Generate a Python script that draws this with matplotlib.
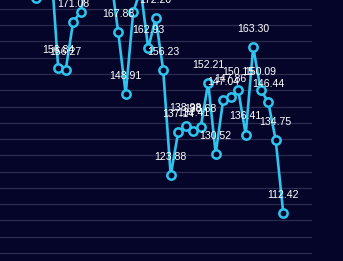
import matplotlib.pyplot as plt

# values; None where the label is cut off at the top
values = [178.4, 185.0, 190.0, 156.84, 156.27, 171.08, 174.0, 185.0, 190.0,
          186.0, 185.0, 167.88, 148.91, 174.0, 181.0, 162.93, 172.20, 156.23,
          123.88, 137.14, 138.98, 137.41, 138.68, 152.21, 130.52, 147.04,
          147.86, 150.15, 136.41, 163.30, 150.09, 146.44, 134.75, 112.42]
# labels that are visible in the crop
shown = [False, False, False, True, True, True, False, False, False,
         False, False, True, True, False, False, True, True, True,
         True, True, True, True, True, True, True, True,
         True, True, True, True, True, True, True, True]
idx = list(range(len(values)))

bg = "#05052a"
cyan = "#2ec4ee"

fig = plt.figure(figsize=(3.43, 2.61), dpi=100, facecolor=bg)
ax = fig.add_axes([0, 0, 312 / 343, 1])
ax.set_facecolor(bg)

px = 3.254  # pixels per unit on y
ax.set_ylim(100 - 8 / px, 100 + 253 / px)
ax.set_xlim(-35.7 / 7.5, (312 - 35.7) / 7.5)
ax.set_yticks(range(100, 180, 5))
ax.grid(axis="y", color="#2c2c50", lw=0.9)
ax.set_axisbelow(True)
ax.tick_params(left=False, bottom=False, labelleft=False, labelbottom=False)
for s in ax.spines.values():
    s.set_visible(False)

ax.plot(idx, values, color=cyan, lw=1.9, marker="o", ms=6,
        mfc=bg, mec=cyan, mew=1.8, zorder=3)

for i, v in enumerate(values):
    if shown[i]:
        ax.annotate(f"{v:.2f}", (i, v), xytext=(0, 13), textcoords="offset points",
                    ha="center", va="center", color="white", fontsize=7.6,
                    family="Liberation Sans", zorder=4)

fig.savefig("out.png", dpi=100, facecolor=bg)
